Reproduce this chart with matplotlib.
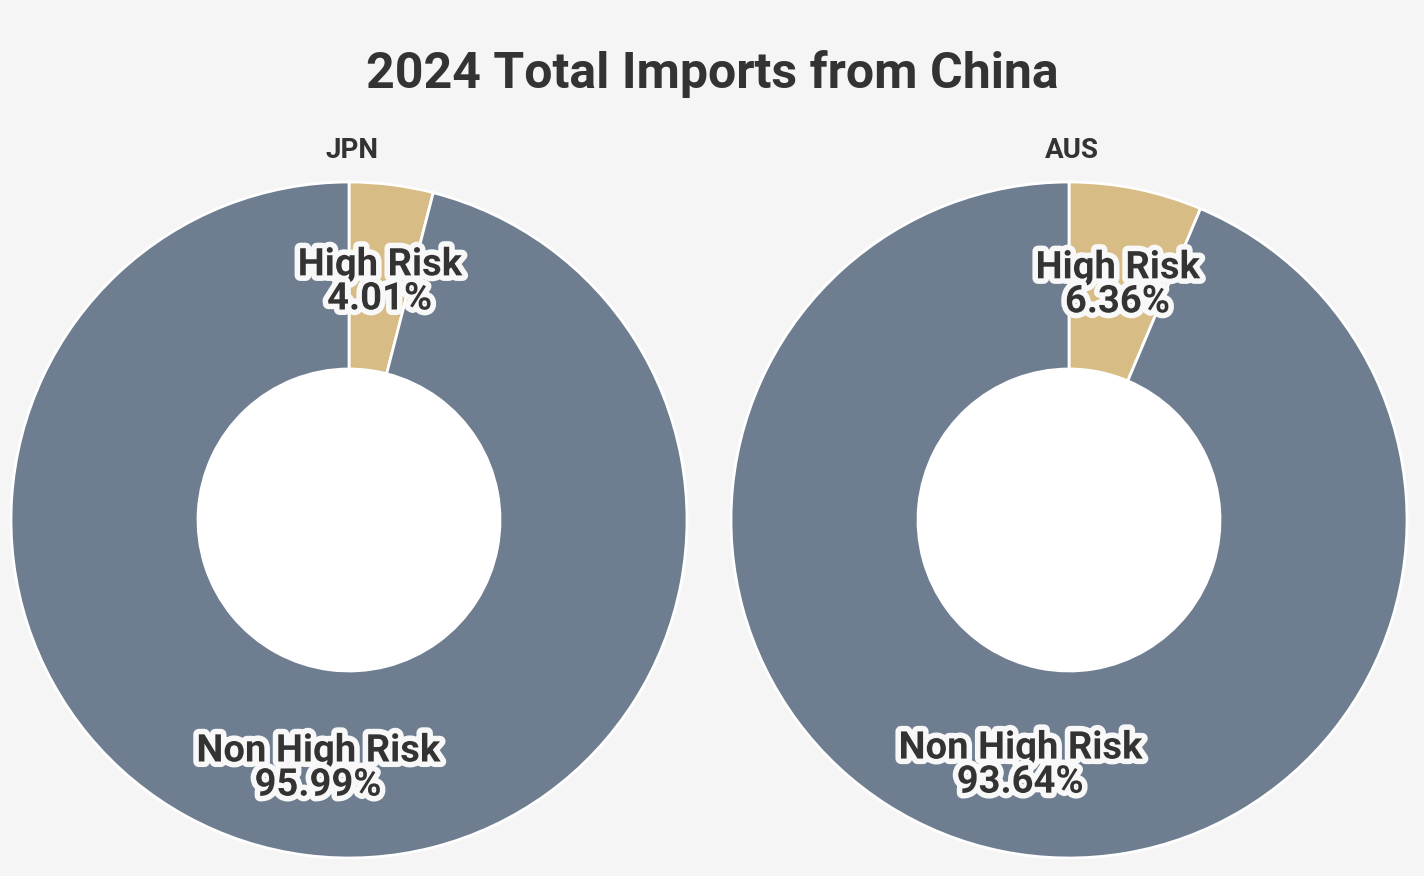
import math
import matplotlib.pyplot as plt
import matplotlib.patheffects as pe

plt.rcParams['font.family'] = ['Roboto', 'DejaVu Sans']

title = '2024 Total Imports from China'
countries = ['JPN', 'AUS']
categories = ['High Risk', 'Non High Risk']
shares = {
    'JPN': [4.01, 95.99],
    'AUS': [6.36, 93.64],
}

colors = ['#d8bc86', '#6e7e90']
bg = '#f5f5f5'
text_col = '#333333'

fig = plt.figure(figsize=(14.24, 8.76), dpi=100, facecolor=bg)
ax = fig.add_axes([0, 0, 1, 1])
ax.set_facecolor(bg)
ax.axis('off')

centers = [(349, 520), (1069, 520)]
r_out = 338
r_in = 151
outline = [pe.withStroke(linewidth=8, foreground='#f8f8f8')]

for name, (cx, cy) in zip(countries, centers):
    vals = shares[name]
    # y axis gets inverted below, so counterclock=True ends up clockwise
    ax.pie(vals, colors=colors, startangle=-90, counterclock=True,
           center=(cx, cy), radius=r_out, frame=True,
           wedgeprops=dict(width=r_out - r_in, edgecolor='white', linewidth=2))
    ax.add_patch(plt.Circle((cx, cy), r_in, color='white', zorder=1))
    ax.text(cx + 3, 150, name, ha='center', va='center', fontsize=20,
            fontweight='bold', color=text_col)

    start = 0
    rmid = 245
    for cat, v in zip(categories, vals):
        ang = math.radians((start + v / 2) / 100 * 360)
        lx = cx + rmid * math.sin(ang)
        ly = cy - rmid * math.cos(ang) + 5
        ax.text(lx, ly, f'{cat}\n{v:.2f}%', ha='center', va='center',
                fontsize=27.5, fontweight='bold', color=text_col,
                linespacing=0.9, path_effects=outline, zorder=5)
        start += v

ax.set_xlim(0, 1424)
ax.set_ylim(876, 0)
ax.set_aspect('equal')

fig.text(0.5, 1 - 74 / 876, title, ha='center', va='center', fontsize=36,
         fontweight='bold', color=text_col)

fig.savefig('out.png', dpi=100, facecolor=bg)
